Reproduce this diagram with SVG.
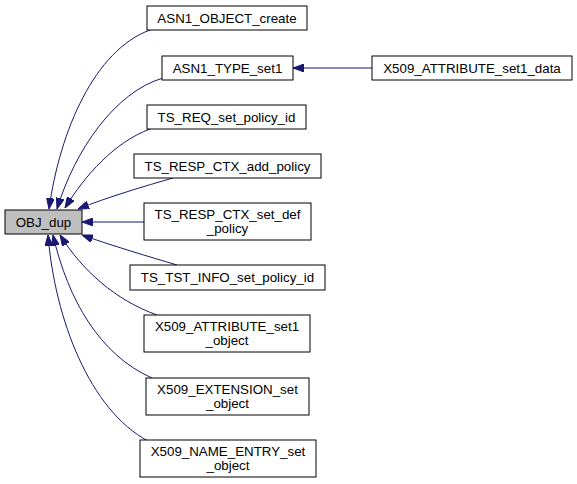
<svg xmlns="http://www.w3.org/2000/svg" width="577" height="484" viewBox="0 0 577 484">
<style>
.n rect{fill:#ffffff;stroke:#000000;stroke-width:1}
#OBJ_dup rect{fill:#bfbfbf}
text{font-family:"Liberation Sans",Arial,Helvetica,sans-serif;font-size:13.33px;fill:#000000;text-anchor:middle}
.e path{fill:none;stroke:#191970;stroke-width:1}
</style>
<defs>
<marker id="ah" viewBox="0 0 11 8" refX="11" refY="4" markerWidth="11" markerHeight="8" markerUnits="userSpaceOnUse" orient="auto">
<path d="M0,0 L11,4 L0,8 z" fill="#191970" stroke="#191970" stroke-width="1"/>
</marker>
</defs>
<rect width="577" height="484" fill="#ffffff"/>
<g id="edges" class="e">
<path marker-end="url(#ah)" d="M150,30 C95,50 60,130 49,209"/>
<path marker-end="url(#ah)" d="M163,78 C115,92 75,150 57,209"/>
<path marker-end="url(#ah)" d="M150,129 C115,142 85,175 65,208"/>
<path marker-end="url(#ah)" d="M173,178 C145,186 108,197 78,209"/>
<path marker-end="url(#ah)" d="M144,222 L82,222"/>
<path marker-end="url(#ah)" d="M177,265 C150,257 110,245 82,235"/>
<path marker-end="url(#ah)" d="M157,315 C115,300 82,270 60,235"/>
<path marker-end="url(#ah)" d="M152,378 C100,355 68,300 53,235"/>
<path marker-end="url(#ah)" d="M148,441 C90,410 55,320 48,235"/>
<path marker-end="url(#ah)" d="M372,68 L293,68"/>
</g>
<g id="OBJ_dup" class="n"><rect x="5" y="210" width="77" height="24"/><text x="43.5" y="227">OBJ_dup</text></g>
<g id="ASN1_OBJECT_create" class="n"><rect x="147" y="6" width="160" height="24"/><text x="227" y="23">ASN1_OBJECT_create</text></g>
<g id="ASN1_TYPE_set1" class="n"><rect x="162" y="56" width="131" height="24"/><text x="227.5" y="73">ASN1_TYPE_set1</text></g>
<g id="X509_ATTRIBUTE_set1_data" class="n"><rect x="372" y="56" width="200" height="24"/><text x="472" y="73">X509_ATTRIBUTE_set1_data</text></g>
<g id="TS_REQ_set_policy_id" class="n"><rect x="147" y="105" width="159" height="24"/><text x="226.5" y="122">TS_REQ_set_policy_id</text></g>
<g id="TS_RESP_CTX_add_policy" class="n"><rect x="134" y="154" width="187" height="24"/><text x="227.5" y="171">TS_RESP_CTX_add_policy</text></g>
<g id="TS_RESP_CTX_set_def_policy" class="n"><rect x="144" y="203" width="167" height="37"/><text x="227.5" y="219">TS_RESP_CTX_set_def</text><text x="227.5" y="233">_policy</text></g>
<g id="TS_TST_INFO_set_policy_id" class="n"><rect x="130" y="265" width="195" height="25"/><text x="227.5" y="282">TS_TST_INFO_set_policy_id</text></g>
<g id="X509_ATTRIBUTE_set1_object" class="n"><rect x="144" y="315" width="166" height="37"/><text x="227" y="331">X509_ATTRIBUTE_set1</text><text x="227" y="345">_object</text></g>
<g id="X509_EXTENSION_set_object" class="n"><rect x="146" y="378" width="163" height="37"/><text x="227.5" y="394">X509_EXTENSION_set</text><text x="227.5" y="408">_object</text></g>
<g id="X509_NAME_ENTRY_set_object" class="n"><rect x="140" y="440" width="176" height="37"/><text x="228" y="456">X509_NAME_ENTRY_set</text><text x="228" y="470">_object</text></g>
</svg>
